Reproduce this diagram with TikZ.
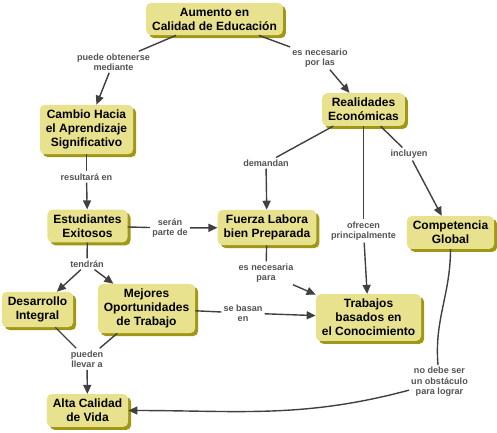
\documentclass[tikz,border=0pt]{standalone}
\usepackage{fontspec}
\setmainfont{Liberation Sans}
\usetikzlibrary{arrows.meta,shadows}
\definecolor{sand}{RGB}{232,226,142}
\definecolor{moss}{RGB}{160,152,20}
\definecolor{ink}{RGB}{64,64,64}
\tikzset{
  >={Triangle[length=9pt,width=8pt]},
  concept/.style={fill=sand,rounded corners=5pt,inner xsep=6pt,inner ysep=5pt,
    align=center,font=\fontsize{12}{14}\selectfont\bfseries,
    drop shadow={shadow xshift=3pt,shadow yshift=-3pt,fill=moss,opacity=1}},
  link/.style={font=\fontsize{9.1}{10.5}\selectfont\bfseries,text=ink!90,align=center,inner sep=2pt},
  wire/.style={draw=ink,line width=1.4pt},
}
\begin{document}
\begin{tikzpicture}[x=1pt,y=-1pt]
    \useasboundingbox (0,0) rectangle (497,432);
    % concepts
    \node[concept] (aum)  at (214.5,19)    {Aumento en\\Calidad de Educación};
    \node[concept] (cam)  at (86.5,129.5)  {Cambio Hacia\\el Aprendizaje\\Significativo};
    \node[concept] (real) at (363.5,109.5) {Realidades\\Económicas};
    \node[concept] (est)  at (87.5,226)    {Estudiantes\\Exitosos};
    \node[concept] (fuer) at (267,227.5)   {Fuerza Labora\\bien Preparada};
    \node[concept] (comp) at (450.5,232.5) {Competencia\\Global};
    \node[concept] (des)  at (37.5,309.5)  {Desarrollo\\Integral};
    \node[concept] (mej)  at (146.5,308.5) {Mejores\\Oportunidades\\de Trabajo};
    \node[concept] (trab) at (368.5,317.5) {Trabajos\\basados en\\el Conocimiento};
    \node[concept] (alta) at (87.5,410.5)  {Alta Calidad\\de Vida};
    % linking phrases
    \node[link] (obt) at (113.5,62)  {puede obtenerse\\mediante};
    \node[link] (nec) at (320,58)    {es necesario\\por las};
    \node[link] (res) at (86.5,177)  {resultará en};
    \node[link] (dem) at (266,163)   {demandan};
    \node[link] (ofr) at (363.5,231) {ofrecen\\principalmente};
    \node[link] (inc) at (409,154)   {incluyen};
    \node[link] (ser) at (170,228)   {serán\\parte de};
    \node[link] (esn) at (266,273)   {es necesaria\\para};
    \node[link] (ten) at (87,264)    {tendrán};
    \node[link] (pue) at (87,359)    {pueden\\llevar a};
    \node[link] (bas) at (243,313)   {se basan\\en};
    \node[link] (nod) at (439.5,382) {no debe ser\\un obstáculo\\para lograr};
    % connections
    \foreach \a/\b in {aum/obt,aum/nec,cam/res,real/dem,real/ofr,real/inc,est/ser,
      fuer/esn,est/ten,des/pue,mej/pue,mej/bas}
      \draw[wire] (\a) -- (\b);
    \foreach \a/\b in {obt/cam,nec/real,res/est,dem/fuer,ofr/trab,inc/comp,ser/fuer,
      esn/trab,ten/des,ten/mej,pue/alta,bas/trab}
      \draw[wire,->] (\a) -- (\b);
    \draw[wire] (comp) to[out=-90,in=95] (nod);
    \draw[wire,->] (nod) to[out=-165,in=0] (alta);
  \end{tikzpicture}
\end{document}
